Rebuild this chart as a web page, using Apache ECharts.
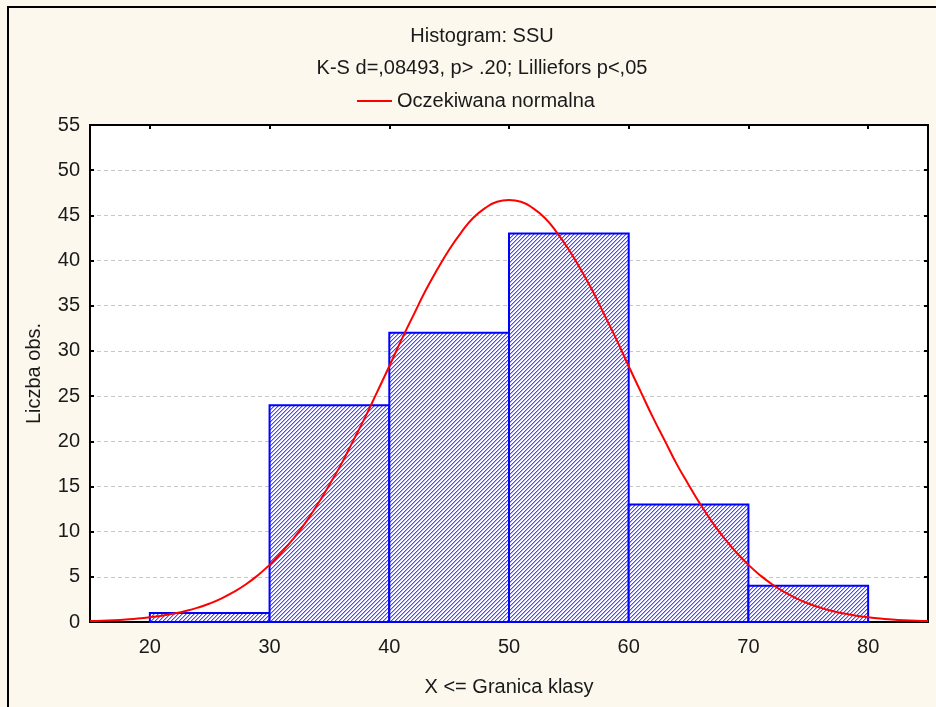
<!DOCTYPE html>
<html>
<head>
<meta charset="utf-8">
<script src="https://cdn.jsdelivr.net/npm/echarts@6/dist/echarts.min.js"></script>
<style>html,body{margin:0;padding:0;background:#fdf8ee;}#c{width:936px;height:707px;}</style>
</head>
<body>
<div id="c"></div>
<script>
// Histogram bins (lower bound, upper bound) and counts
var binLow = [20, 30, 40, 50, 60, 70];
var binHigh = [30, 40, 50, 60, 70, 80];
var counts = [1, 24, 32, 43, 13, 4];
// Expected normal curve (x = 15 ... 85, step 1)
var curveX = [15, 16, 17, 18, 19, 20, 21, 22, 23, 24, 25, 26, 27, 28, 29, 30, 31, 32, 33, 34, 35, 36, 37, 38, 39, 40, 41, 42, 43, 44, 45, 46, 47, 48, 49, 50,
              51, 52, 53, 54, 55, 56, 57, 58, 59, 60, 61, 62, 63, 64, 65, 66, 67, 68, 69, 70, 71, 72, 73, 74, 75, 76, 77, 78, 79, 80, 81, 82, 83, 84, 85];
var curveY = [0.10, 0.14, 0.20, 0.28, 0.38, 0.52, 0.70, 0.93, 1.22, 1.59, 2.05, 2.62, 3.32, 4.15, 5.15, 6.32, 7.68, 9.24, 11.0, 13.0, 15.2, 17.5, 20.1, 22.7, 25.5, 28.3, 31.2, 33.9, 36.6, 39.0, 41.2, 43.1, 44.7, 45.8, 46.5, 46.7,
              46.5, 45.8, 44.7, 43.1, 41.2, 39.0, 36.6, 33.9, 31.2, 28.3, 25.5, 22.7, 20.1, 17.5, 15.2, 13.0, 11.0, 9.24, 7.68, 6.32, 5.15, 4.15, 3.32, 2.62, 2.05, 1.59, 1.22, 0.93, 0.70, 0.52, 0.38, 0.28, 0.20, 0.14, 0.10];
var xTicks = [20, 30, 40, 50, 60, 70, 80];

var FONT = 'Liberation Sans, Arial, sans-serif';
var FS = 20;

// hatch pattern
var pc = document.createElement('canvas');
pc.width = 4; pc.height = 4;
var g = pc.getContext('2d');
g.fillStyle = '#ffffff'; g.fillRect(0, 0, 4, 4);
for (var i = 0; i < 4; i++) {
  g.fillStyle = '#4848ff'; g.fillRect(3 - i, i, 1, 1);
  g.fillStyle = '#b0b0ff'; g.fillRect((4 - i) % 4, i, 1, 1);
}
var hatch = {image: pc, repeat: 'repeat'};

var histData = binLow.map(function (v, i) { return [v, binHigh[i], counts[i]]; });
var lineData = curveX.map(function (v, i) { return [v, curveY[i]]; });

var chart = echarts.init(document.getElementById('c'));
chart.setOption({
  backgroundColor: '#fdf8ee',
  animation: false,
  textStyle: {fontFamily: FONT},
  title: {
    text: 'Histogram: SSU',
    subtext: 'K-S d=,08493, p> .20; Lilliefors p<,05',
    left: 477, top: 21, textAlign: 'center', itemGap: 12,
    textStyle: {fontFamily: FONT, fontSize: FS, fontWeight: 'normal', color: '#1a1a1a'},
    subtextStyle: {fontFamily: FONT, fontSize: FS, color: '#1a1a1a'}
  },
  legend: {
    left: 352, top: 86,
    icon: 'rect', itemWidth: 35, itemHeight: 2, itemGap: 8,
    textStyle: {fontFamily: FONT, fontSize: FS, color: '#1a1a1a'},
    data: ['Oczekiwana normalna']
  },
  graphic: [
    {type: 'line', shape: {x1: 7, y1: 7, x2: 936, y2: 7}, style: {stroke: '#000', lineWidth: 2}},
    {type: 'line', shape: {x1: 8, y1: 7, x2: 8, y2: 707}, style: {stroke: '#000', lineWidth: 2}}
  ],
  grid: {left: 90, right: 8, top: 125, bottom: 85, show: true, backgroundColor: '#ffffff', borderColor: '#000', borderWidth: 2},
  xAxis: [{
    type: 'value', min: 15, max: 85, position: 'bottom',
    name: 'X <= Granica klasy', nameLocation: 'middle', nameGap: 55,
    nameTextStyle: {fontFamily: FONT, fontSize: FS, color: '#1a1a1a', verticalAlign: 'top'},
    axisLine: {show: true, onZero: false, lineStyle: {color: '#000', width: 2}},
    axisTick: {show: true, inside: true, length: 4, customValues: xTicks, lineStyle: {color: '#000', width: 2}},
    axisLabel: {customValues: xTicks, margin: 15, fontSize: FS, fontFamily: FONT, color: '#1a1a1a'},
    splitLine: {show: false}
  }, {
    type: 'value', min: 15, max: 85, position: 'top',
    axisLine: {show: true, onZero: false, lineStyle: {color: '#000', width: 2}},
    axisTick: {show: true, inside: true, length: 4, customValues: xTicks, lineStyle: {color: '#000', width: 2}},
    axisLabel: {show: false},
    splitLine: {show: false}
  }],
  yAxis: [{
    type: 'value', min: 0, max: 55, interval: 5, position: 'left',
    name: 'Liczba obs.', nameLocation: 'middle', nameGap: 46, nameRotate: 90,
    nameTextStyle: {fontFamily: FONT, fontSize: FS, color: '#1a1a1a'},
    axisLine: {show: true, lineStyle: {color: '#000', width: 2}},
    axisTick: {show: true, inside: true, length: 4, lineStyle: {color: '#000', width: 2}},
    axisLabel: {margin: 10, fontSize: FS, fontFamily: FONT, color: '#1a1a1a'},
    splitLine: {show: true, lineStyle: {color: '#c8c8c8', type: [4, 3], width: 1}}
  }, {
    type: 'value', min: 0, max: 55, interval: 5, position: 'right',
    axisLine: {show: true, lineStyle: {color: '#000', width: 2}},
    axisTick: {show: true, inside: true, length: 4, lineStyle: {color: '#000', width: 2}},
    axisLabel: {show: false},
    splitLine: {show: false}
  }],
  series: [{
    type: 'custom', name: 'hist', xAxisIndex: 0, yAxisIndex: 0, z: 2,
    data: histData,
    encode: {x: [0, 1], y: 2},
    renderItem: function (params, api) {
      var p0 = api.coord([api.value(0), api.value(2)]);
      var p1 = api.coord([api.value(1), 0]);
      return {
        type: 'rect',
        shape: {x: p0[0], y: p0[1], width: p1[0] - p0[0], height: p1[1] - p0[1]},
        style: {fill: hatch, stroke: '#0000ff', lineWidth: 2}
      };
    }
  }, {
    type: 'line', name: 'Oczekiwana normalna', xAxisIndex: 0, yAxisIndex: 0, z: 5,
    data: lineData, smooth: true, showSymbol: false, symbol: 'none',
    color: '#ff0000', lineStyle: {color: '#ff0000', width: 2}
  }]
});
</script>
</body>
</html>
